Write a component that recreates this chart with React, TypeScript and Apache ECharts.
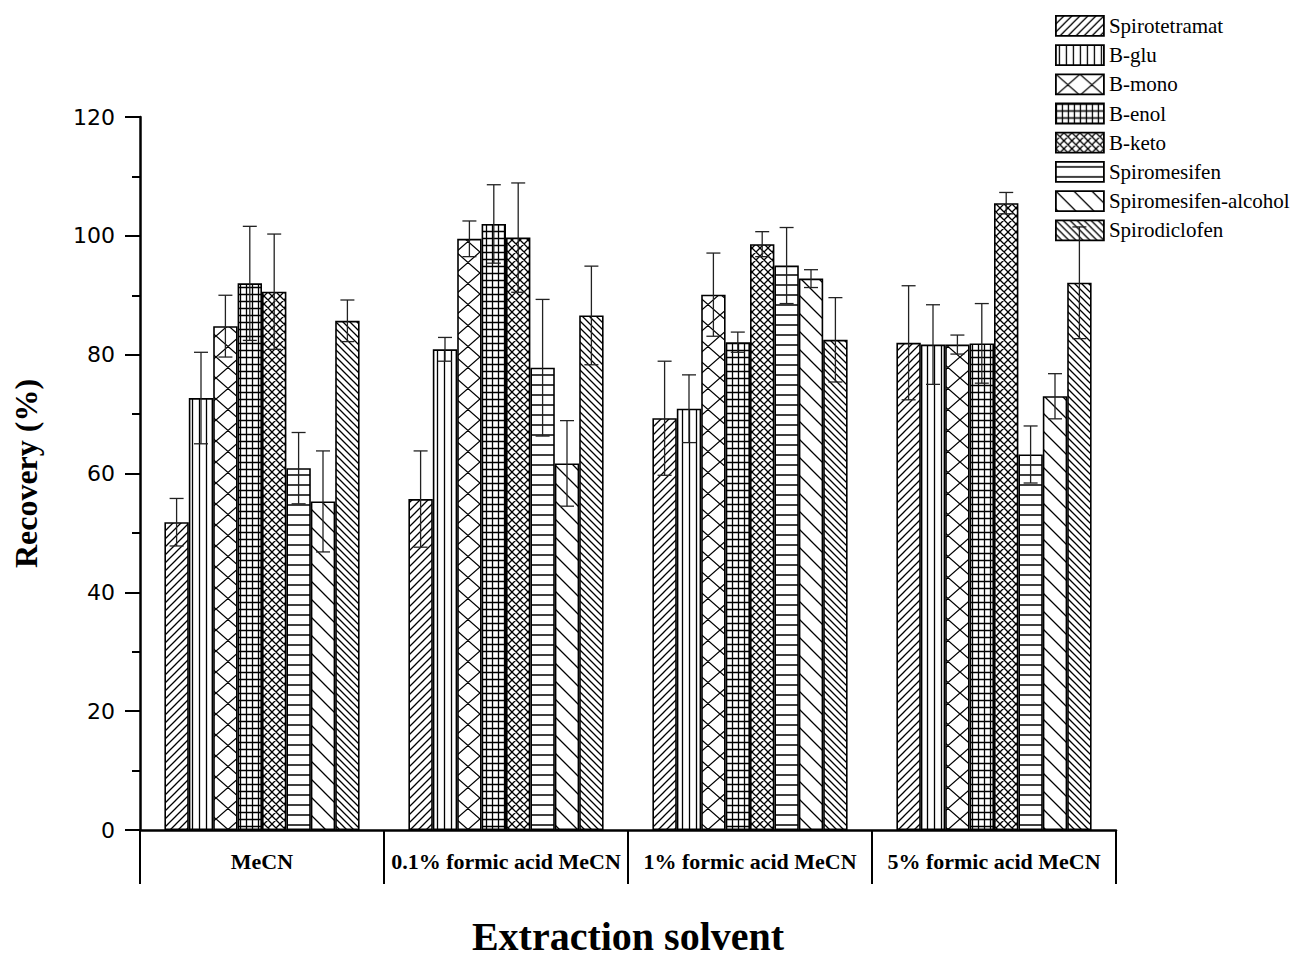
import React, { useEffect, useRef } from "react";
import * as echarts from "echarts";

const categories = ["MeCN", "0.1% formic acid MeCN", "1% formic acid MeCN", "5% formic acid MeCN"];
const seriesNames = ["Spirotetramat", "B-glu", "B-mono", "B-enol", "B-keto", "Spiromesifen", "Spiromesifen-alcohol", "Spirodiclofen"];

const spirotetramat = [51.8, 55.7, 69.3, 82.0];
const bGlu = [72.7, 80.9, 70.9, 81.7];
const bMono = [84.8, 99.5, 90.1, 81.7];
const bEnol = [92.0, 102.0, 82.1, 81.9];
const bKeto = [90.6, 99.7, 98.6, 105.5];
const spiromesifen = [60.9, 77.8, 95.0, 63.2];
const spiromesifenAlcohol = [55.3, 61.7, 92.8, 73.0];
const spirodiclofen = [85.7, 86.6, 82.5, 92.1];

const errSpirotetramat = [4.0, 8.1, 9.6, 9.6];
const errBGlu = [7.7, 2.0, 5.7, 6.7];
const errBMono = [5.2, 3.0, 7.0, 1.6];
const errBEnol = [9.6, 6.6, 1.7, 6.7];
const errBKeto = [9.7, 9.2, 2.1, 1.8];
const errSpiromesifen = [6.0, 11.5, 6.4, 4.8];
const errSpiromesifenAlcohol = [8.5, 7.2, 1.5, 3.8];
const errSpirodiclofen = [3.5, 8.3, 7.1, 9.4];

const yTicks = { min: 0, max: 120, interval: 20 };

const values = [spirotetramat, bGlu, bMono, bEnol, bKeto, spiromesifen, spiromesifenAlcohol, spirodiclofen];
const errors = [errSpirotetramat, errBGlu, errBMono, errBEnol, errBKeto, errSpiromesifen, errSpiromesifenAlcohol, errSpirodiclofen];

type Seg = [number, number, number, number];

function makePattern(w: number, h: number, segs: Seg[]) {
  const c = document.createElement("canvas");
  c.width = w;
  c.height = h;
  const ctx = c.getContext("2d")!;
  ctx.fillStyle = "#fff";
  ctx.fillRect(0, 0, w, h);
  ctx.strokeStyle = "#000";
  ctx.lineWidth = 1.3;
  ctx.beginPath();
  for (const dx of [-w, 0, w]) {
    for (const dy of [-h, 0, h]) {
      for (const [x1, y1, x2, y2] of segs) {
        ctx.moveTo(x1 + dx, y1 + dy);
        ctx.lineTo(x2 + dx, y2 + dy);
      }
    }
  }
  ctx.stroke();
  return { image: c, repeat: "repeat", imageWidth: w, imageHeight: h } as any;
}

function buildPatterns() {
  return [
    makePattern(8, 8, [[0, 8, 8, 0]]),
    makePattern(7, 7, [[3.5, 0, 3.5, 7]]),
    makePattern(24, 21, [[0, 0, 24, 21], [0, 21, 24, 0]]),
    makePattern(6, 7, [[0.5, 0, 0.5, 7], [0, 0.5, 6, 0.5]]),
    makePattern(8, 8, [[0, 0, 8, 8], [0, 8, 8, 0]]),
    makePattern(10, 10, [[0, 5, 10, 5]]),
    makePattern(18, 18, [[0, 0, 18, 18]]),
    makePattern(7, 7, [[0, 0, 7, 7]]),
  ];
}

export default function App() {
  const ref = useRef<HTMLDivElement>(null);
  useEffect(() => {
    if (!ref.current) return;
    const chart = echarts.init(ref.current, undefined, { renderer: "svg" });
    const patterns = buildPatterns();
    const serif = "'Liberation Serif', 'Times New Roman', serif";

    const barSeries = seriesNames.map((name, i) => ({
      name,
      type: "bar",
      data: values[i],
      barGap: "0%",
      barCategoryGap: "20%",
      silent: true,
      itemStyle: { color: patterns[i], borderColor: "#000", borderWidth: 1.6 },
    }));

    const errData: number[][] = [];
    values.forEach((arr, s) => {
      arr.forEach((v, c) => errData.push([c, v, errors[s][c], s]));
    });

    const errSeries = {
      type: "custom",
      name: "err",
      silent: true,
      z: 10,
      encode: { x: 0, y: 1 },
      data: errData,
      renderItem: (params: any, api: any) => {
        const c = api.value(0);
        const v = api.value(1);
        const e = api.value(2);
        const s = api.value(3);
        const center = api.coord([c, v]);
        const band = api.size([1, 0])[0];
        const bw = (band * 0.8) / 8;
        const x = center[0] + (s - 3.5) * bw;
        const top = api.coord([c, v + e])[1];
        const bot = api.coord([c, v - e])[1];
        const hw = 7;
        const style = { stroke: "#222", lineWidth: 1.3 };
        return {
          type: "group",
          children: [
            { type: "line", shape: { x1: x, y1: top, x2: x, y2: bot }, style },
            { type: "line", shape: { x1: x - hw, y1: top, x2: x + hw, y2: top }, style },
            { type: "line", shape: { x1: x - hw, y1: bot, x2: x + hw, y2: bot }, style },
          ],
        };
      },
    };

    chart.setOption({
      animation: false,
      backgroundColor: "#fff",
      grid: { left: 140, width: 976, top: 117, height: 722, containLabel: false },
      legend: {
        data: seriesNames,
        orient: "vertical",
        left: 1050,
        top: 10,
        icon: "rect",
        itemWidth: 48,
        itemHeight: 20,
        itemGap: 7.4,
        selectedMode: false,
        itemStyle: { borderColor: "#000", borderWidth: 1.8 },
        textStyle: { fontFamily: serif, fontSize: 21, color: "#000", lineHeight: 20 },
      },
      xAxis: {
        type: "category",
        data: categories,
        name: "Extraction solvent",
        nameLocation: "middle",
        nameGap: 86,
        nameTextStyle: { fontFamily: serif, fontSize: 40, fontWeight: "bold", color: "#000" },
        axisLine: { lineStyle: { color: "#000", width: 2.5 } },
        axisTick: { show: true, interval: 0, length: 54, lineStyle: { color: "#000", width: 2 } },
        axisLabel: { interval: 0, margin: 20, fontFamily: serif, fontSize: 22, fontWeight: "bold", color: "#000" },
      },
      yAxis: {
        type: "value",
        min: yTicks.min,
        max: yTicks.max,
        interval: yTicks.interval,
        name: "Recovery (%)",
        nameLocation: "middle",
        nameGap: 98,
        nameTextStyle: { fontFamily: serif, fontSize: 32, fontWeight: "bold", color: "#000" },
        axisLine: { show: true, lineStyle: { color: "#000", width: 2.5 } },
        axisTick: { show: true, length: 15, lineStyle: { color: "#000", width: 2 } },
        minorTick: { show: true, splitNumber: 2, length: 8, lineStyle: { color: "#000", width: 2 } },
        splitLine: { show: false },
        axisLabel: { margin: 25, fontFamily: "'DejaVu Sans', sans-serif", fontSize: 22, color: "#000" },
      },
      series: [...barSeries, errSeries],
    });
    return () => chart.dispose();
  }, []);
  return <div ref={ref} style={{ position: "absolute", left: 0, top: 0, width: 1296, height: 961 }} />;
}
